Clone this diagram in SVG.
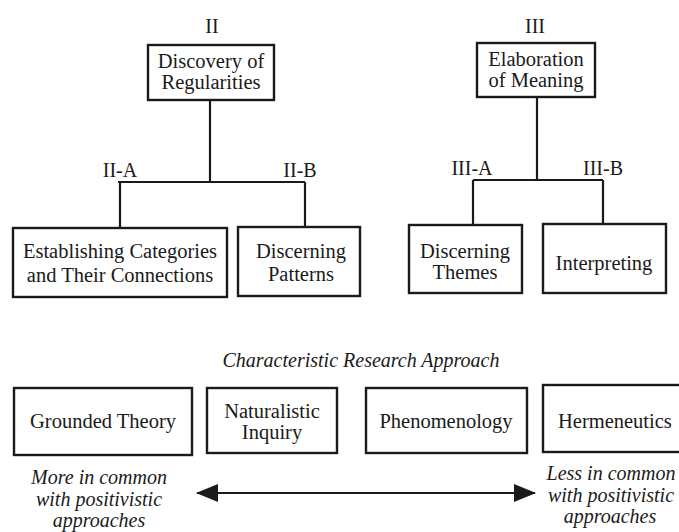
<svg xmlns="http://www.w3.org/2000/svg" width="679" height="532" viewBox="0 0 679 532">
  <defs>
    <style>
      .box { fill: #ffffff; stroke: #1a1a1a; stroke-width: 2.4; }
      .line { fill: none; stroke: #1a1a1a; stroke-width: 2.2; }
      .t { font-family: "Liberation Serif", "Times New Roman", serif; font-size: 20.5px; fill: #1a1a1a; text-anchor: middle; }
      .lab { font-family: "Liberation Serif", "Times New Roman", serif; font-size: 20px; fill: #1a1a1a; text-anchor: middle; }
      .it { font-family: "Liberation Serif", "Times New Roman", serif; font-style: italic; font-size: 20px; fill: #1a1a1a; text-anchor: middle; }
      .cap { font-family: "Liberation Serif", "Times New Roman", serif; font-style: italic; font-size: 20px; fill: #1a1a1a; text-anchor: middle; }
    </style>
    <marker id="head" viewBox="0 0 22 18" refX="21" refY="9" markerWidth="22" markerHeight="18" markerUnits="userSpaceOnUse" orient="auto-start-reverse">
      <path d="M0,0 L22,9 L0,18 Z" fill="#1a1a1a"/>
    </marker>
  </defs>

  <rect width="679" height="532" fill="#ffffff"/>

  <!-- tree connectors and the approach scale arrow -->
  <g id="connectors">
    <path class="line" d="M210,100 V182 M118,182 H305 M120,182 V228 M305,182 V228"/>
    <path class="line" d="M537,97 V180 M473,180 H603 M473,180 V225 M603,180 V225"/>
    <line class="line" x1="197" y1="493" x2="535" y2="493" marker-start="url(#head)" marker-end="url(#head)"/>
  </g>

  <!-- branch labels -->
  <g id="labels">
    <text class="lab" x="212" y="33">II</text>
    <text class="lab" x="535" y="33">III</text>
    <text class="lab" x="120" y="177">II-A</text>
    <text class="lab" x="300" y="177">II-B</text>
    <text class="lab" x="472" y="175">III-A</text>
    <text class="lab" x="603" y="175">III-B</text>
  </g>

  <g id="discovery">
    <rect class="box" x="148" y="45" width="126" height="55"/>
    <text class="t" x="211" y="68">Discovery of</text>
    <text class="t" x="211" y="89">Regularities</text>
  </g>

  <g id="elaboration">
    <rect class="box" x="477" y="43" width="118" height="54"/>
    <text class="t" x="536" y="66">Elaboration</text>
    <text class="t" x="536" y="87">of Meaning</text>
  </g>

  <g id="categories">
    <rect class="box" x="13" y="228" width="214" height="69"/>
    <text class="t" x="120" y="258">Establishing Categories</text>
    <text class="t" x="120" y="282">and Their Connections</text>
  </g>

  <g id="patterns">
    <rect class="box" x="238" y="227" width="122" height="69"/>
    <text class="t" x="301" y="258">Discerning</text>
    <text class="t" x="301" y="281">Patterns</text>
  </g>

  <g id="themes">
    <rect class="box" x="409" y="225" width="113" height="68"/>
    <text class="t" x="465" y="258">Discerning</text>
    <text class="t" x="465" y="279">Themes</text>
  </g>

  <g id="interpreting">
    <rect class="box" x="543" y="224" width="123" height="69"/>
    <text class="t" x="604" y="270">Interpreting</text>
  </g>

  <text class="cap" x="361" y="367">Characteristic Research Approach</text>

  <g id="grounded-theory">
    <rect class="box" x="14" y="388" width="178" height="67"/>
    <text class="t" x="103" y="428">Grounded Theory</text>
  </g>

  <g id="naturalistic-inquiry">
    <rect class="box" x="207" y="388" width="130" height="65"/>
    <text class="t" x="272" y="418">Naturalistic</text>
    <text class="t" x="272" y="439">Inquiry</text>
  </g>

  <g id="phenomenology">
    <rect class="box" x="366" y="388" width="161" height="65"/>
    <text class="t" x="446" y="428">Phenomenology</text>
  </g>

  <g id="hermeneutics">
    <rect class="box" x="543" y="385" width="150" height="67"/>
    <text class="t" x="558" y="428" style="text-anchor:start">Hermeneutics</text>
  </g>

  <g id="scale-ends">
    <text class="it" x="99" y="484">More in common</text>
    <text class="it" x="99" y="506">with positivistic</text>
    <text class="it" x="99" y="527">approaches</text>
    <text class="it" x="611" y="480">Less in common</text>
    <text class="it" x="611" y="502">with positivistic</text>
    <text class="it" x="610" y="523">approaches</text>
  </g>
</svg>
